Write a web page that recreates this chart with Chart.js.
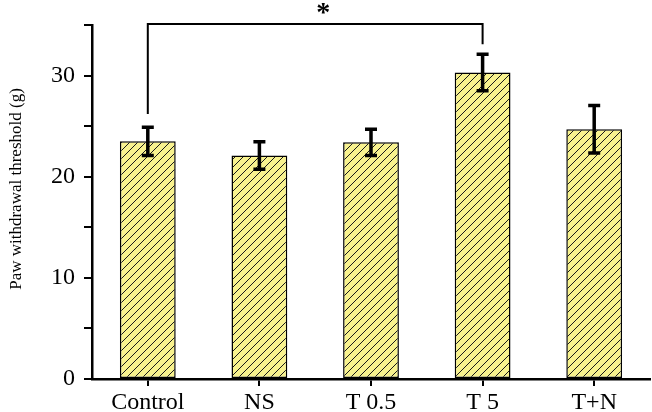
<!DOCTYPE html>
<html>
<head>
<meta charset="utf-8">
<script src="https://cdn.jsdelivr.net/npm/chart.js@4"></script>
<style>
  html, body { margin: 0; padding: 0; background: #fff; }
  #wrap { width: 652px; height: 412px; }
</style>
</head>
<body>
<div id="wrap"><canvas id="chart" width="652" height="412"></canvas></div>
<script>
const groups = ['Control', 'NS', 'T 0.5', 'T 5', 'T+N'];
const means = [23.5, 22.1, 23.4, 30.3, 24.7];
const errors = [1.4, 1.35, 1.3, 1.8, 2.35];
// significance bracket: from group, to group, top level, left leg end, right leg end
const bracketGroups = ['Control', 'T 5'];
const bracketLevels = [35.1, 26.2, 33.1];
const bracketMark = '*';
const yTitle = 'Paw withdrawal threshold (g)';

const serif = '"Liberation Serif", "Times New Roman", serif';

function hatchPattern() {
    const c = document.createElement('canvas');
    c.width = 8; c.height = 8;
    const g = c.getContext('2d');
    g.fillStyle = '#f8f28e';
    g.fillRect(0, 0, 8, 8);
    g.strokeStyle = '#1a1a1a';
    g.lineWidth = 1;
    g.beginPath();
    g.moveTo(0, 8); g.lineTo(8, 0);
    g.moveTo(-2, 2); g.lineTo(2, -2);
    g.moveTo(6, 10); g.lineTo(10, 6);
    g.stroke();
    return g.createPattern(c, 'repeat');
}

const extras = {
    id: 'extras',
    afterDatasetsDraw(chart) {
        const ctx = chart.ctx;
        const x = chart.scales.x, y = chart.scales.y;
        ctx.save();
        ctx.strokeStyle = '#000';
        ctx.lineCap = 'butt';
        // error bars
        means.forEach((m, i) => {
            const px = x.getPixelForValue(i);
            const top = y.getPixelForValue(m + errors[i]);
            const bot = y.getPixelForValue(m - errors[i]);
            ctx.lineWidth = 3.5;
            ctx.beginPath();
            ctx.moveTo(px, top); ctx.lineTo(px, bot);
            ctx.moveTo(px - 6, top); ctx.lineTo(px + 6, top);
            ctx.moveTo(px - 6, bot); ctx.lineTo(px + 6, bot);
            ctx.stroke();
        });
        // bracket
        const x1 = x.getPixelForValue(groups.indexOf(bracketGroups[0]));
        const x2 = x.getPixelForValue(groups.indexOf(bracketGroups[1]));
        const yt = y.getPixelForValue(bracketLevels[0]);
        ctx.lineWidth = 2;
        ctx.beginPath();
        ctx.moveTo(x1, y.getPixelForValue(bracketLevels[1]));
        ctx.lineTo(x1, yt);
        ctx.lineTo(x2, yt);
        ctx.lineTo(x2, y.getPixelForValue(bracketLevels[2]));
        ctx.stroke();
        ctx.fillStyle = '#000';
        ctx.font = 'bold 28px ' + serif;
        ctx.textAlign = 'center';
        ctx.textBaseline = 'middle';
        ctx.fillText(bracketMark, (x1 + x2) / 2 + 8, yt - 10);
        // y axis title, sits a little above the middle of the axis
        ctx.translate(17, (y.top + y.bottom) / 2 - 13);
        ctx.rotate(-Math.PI / 2);
        ctx.font = '17px ' + serif;
        ctx.fillText(yTitle, 0, 0);
        ctx.restore();
    }
};

new Chart(document.getElementById('chart'), {
    type: 'bar',
    data: {
        labels: groups,
        datasets: [{
            data: means,
            backgroundColor: hatchPattern(),
            borderColor: '#000',
            borderWidth: 1.5,
            borderSkipped: false,
            categoryPercentage: 1,
            barPercentage: 0.5
        }]
    },
    options: {
        responsive: false,
        animation: false,
        layout: { padding: { top: 25, right: 2, left: 0, bottom: 0 } },
        plugins: {
            legend: { display: false },
            tooltip: { enabled: false }
        },
        scales: {
            x: {
                afterFit: s => { s.height = 33; },
                grid: {
                    offset: false,
                    drawOnChartArea: false,
                    color: '#000',
                    lineWidth: 2,
                    tickLength: 7
                },
                border: { display: true, color: '#000', width: 2.5 },
                ticks: {
                    color: '#000',
                    padding: 4,
                    font: { family: serif, size: 24, lineHeight: 1.1 },
                    maxRotation: 0
                }
            },
            y: {
                min: 0,
                max: 35,
                afterFit: s => { s.width = 92; },
                grid: {
                    drawOnChartArea: false,
                    color: '#000',
                    lineWidth: 2,
                    tickLength: 8
                },
                border: { display: true, color: '#000', width: 2.5 },
                ticks: {
                    stepSize: 5,
                    color: '#000',
                    padding: 9,
                    font: { family: serif, size: 24 },
                    callback: v => (v % 10 === 0 ? v : '')
                }
            }
        }
    },
    plugins: [extras]
});
</script>
</body>
</html>
